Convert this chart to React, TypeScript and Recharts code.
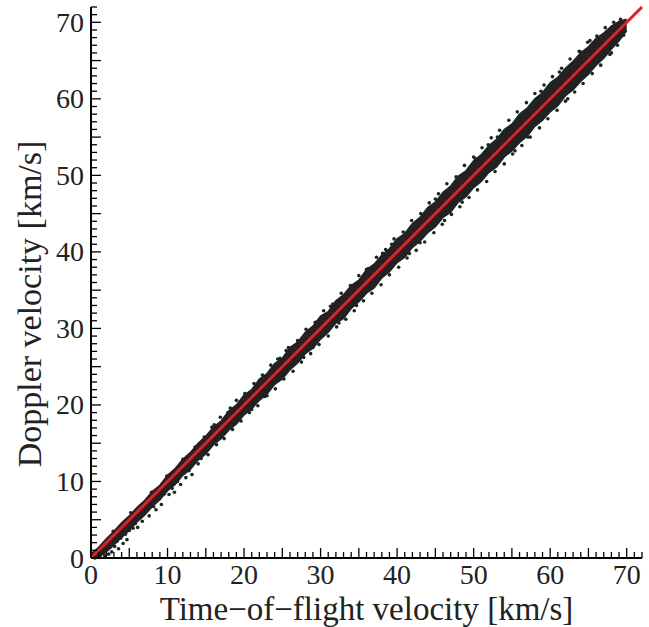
import { ComposedChart, XAxis, YAxis, Area, Scatter, Line, Label } from 'recharts'

// dense core of the point cloud: low / high Doppler velocity per ToF velocity
const bandX = [
  0, 1, 2, 3, 4, 5, 6, 7, 8, 9, 10, 11, 12, 13, 14, 15, 16, 17, 18, 19, 20, 21, 22, 23, 24, 25, 26, 27, 28, 29, 30,
  31, 32, 33, 34, 35, 36, 37, 38, 39, 40, 41, 42, 43, 44, 45, 46, 47, 48, 49, 50, 51, 52, 53, 54, 55, 56, 57, 58, 59,
  60, 61, 62, 63, 64, 65, 66, 67, 68, 69, 70,
]
const bandLow = [
  0.0, 0.1, 0.8, 1.7, 2.7, 3.6, 4.7, 5.6, 6.7, 7.6, 8.8, 9.6, 10.8, 11.6, 12.8, 13.6, 14.8, 15.6, 16.7, 17.5, 18.7,
  19.5, 20.6, 21.4, 22.7, 23.4, 24.6, 25.5, 26.7, 27.4, 28.6, 29.5, 30.7, 31.3, 32.6, 33.5, 34.6, 35.3, 36.6, 37.4,
  38.6, 39.3, 40.6, 41.4, 42.5, 43.3, 44.5, 45.2, 46.5, 47.2, 48.4, 49.2, 50.4, 51.1, 52.4, 53.2, 54.3, 55.1, 56.4,
  57.2, 58.3, 59.1, 60.4, 61.2, 62.3, 63.2, 64.4, 65.3, 66.5, 67.6, 68.9,
]
const bandHigh = [
  0.5, 1.4, 2.5, 3.5, 4.6, 5.5, 6.6, 7.5, 8.7, 9.5, 10.8, 11.7, 12.9, 13.8, 15.0, 15.9, 17.1, 17.9, 19.2, 20.0, 21.3,
  22.0, 23.4, 24.1, 25.4, 26.1, 27.5, 28.2, 29.5, 30.3, 31.6, 32.2, 33.6, 34.4, 35.6, 36.3, 37.7, 38.4, 39.6, 40.4,
  41.7, 42.4, 43.7, 44.5, 45.8, 46.5, 47.8, 48.6, 49.9, 50.6, 51.9, 52.7, 53.9, 54.7, 56.0, 56.7, 58.0, 58.8, 60.0,
  60.8, 62.1, 62.8, 64.0, 64.9, 66.0, 66.8, 67.9, 68.6, 69.5, 70.1, 70.4,
]

// scattered points around the band edges
const tofX = [
  0.5, 0.9, 1.2, 1.5, 1.8, 2.0, 2.3, 2.5, 2.7, 2.9, 3.1, 3.4, 3.6, 3.9, 4.2, 4.5, 4.7, 5.0, 5.2, 5.5,
  5.8, 6.1, 6.4, 6.7, 7.0, 7.3, 7.6, 7.9, 8.2, 8.5, 8.9, 9.2, 9.6, 9.9, 10.2, 10.6, 10.9, 11.3, 11.7, 12.0,
  12.4, 12.8, 13.2, 13.6, 14.0, 14.4, 14.8, 15.3,
  15.8, 16.4, 16.9, 17.4, 17.9, 18.5, 19.0, 19.6, 20.1, 20.7, 21.3, 21.8, 22.4, 23.0, 23.5, 24.1, 24.7, 25.2, 25.8, 26.4,
  27.0, 27.5, 28.1, 28.7, 29.3, 29.8, 30.4, 31.0, 31.6, 32.1, 32.7, 33.3, 33.9, 34.4, 35.0, 35.6, 36.2, 36.7, 37.3, 37.9,
  38.5, 39.0, 39.6, 40.2, 40.8, 41.3, 41.9, 42.5, 43.1, 43.6, 44.2, 44.8,
  45.4, 45.9, 46.5, 47.1, 47.7, 48.2, 48.8, 49.4, 50.0, 50.5, 51.1, 51.7, 52.3, 52.8, 53.4, 54.0, 54.6, 55.1, 55.7, 56.3,
  56.9, 57.4, 58.0, 58.6, 59.2, 59.7, 60.3, 60.9, 61.5, 62.0, 62.6, 63.2, 63.8, 64.3, 64.9, 65.5, 66.1, 66.6, 67.2, 67.8,
  68.3, 68.8, 69.2, 69.6,
  18.2, 21.0, 24.4, 27.8, 31.3, 34.7, 38.1, 41.6, 45.0, 48.5, 51.9, 55.4, 58.8, 62.3, 65.2, 68.0, 16.1, 29.0, 36.0, 43.0,
  50.2, 57.1, 64.0, 61.2, 53.1, 46.2, 39.3, 32.4, 25.5, 22.7,
]
const dopY = [
  0.0, 0.2, 0.1, 0.7, 0.3, 1.1, 0.5, 1.4, 0.8, 3.5, 1.5, 2.2, 1.2, 2.6, 1.9, 3.1, 2.4, 3.6, 5.9, 3.9,
  4.5, 4.0, 5.3, 4.8, 5.9, 6.4, 5.5, 8.6, 6.7, 6.3, 7.7, 7.0, 8.4, 10.7, 8.3, 9.1, 8.6, 10.0, 9.6, 12.9,
  10.5, 11.4, 10.9, 14.5, 12.3, 13.0, 15.8, 13.5,
  17.1, 14.8, 18.4, 15.6, 19.0, 16.8, 20.6, 17.9, 21.5, 19.0, 22.8, 19.9, 23.9, 21.2, 25.2, 22.1, 26.1, 23.4, 27.5, 24.4,
  28.4, 25.6, 29.9, 26.7, 30.8, 27.9, 32.3, 29.0, 33.2, 30.2, 34.6, 31.2, 35.6, 32.3, 36.9, 33.6, 37.8, 34.6, 39.3, 35.7,
  40.3, 37.0, 41.7, 38.0, 42.6, 39.2, 44.1, 40.2, 45.0, 41.3, 46.4, 42.5,
  47.6, 43.6, 48.9, 44.9, 49.8, 45.9, 51.3, 47.1, 52.4, 48.1, 53.6, 49.2, 54.9, 50.5, 55.9, 51.5, 57.2, 52.8, 58.3, 53.9,
  59.5, 55.0, 60.7, 56.2, 61.8, 57.4, 62.9, 58.5, 64.0, 59.7, 65.2, 60.9, 66.2, 62.0, 67.4, 63.3, 68.2, 64.4, 69.3, 65.8,
  70.0, 67.0, 70.4, 68.3,
  19.6, 19.4, 26.0, 26.2, 32.9, 33.0, 39.8, 39.8, 46.9, 46.5, 54.0, 53.2, 61.0, 60.0, 67.6, 66.0, 17.4, 27.5, 37.7, 41.2,
  52.2, 55.0, 66.1, 63.5, 55.0, 44.1, 41.0, 30.7, 27.1, 21.1,
]

// linear fit drawn in red
const fitX = [0, 72]
const fitY = [0, 72]

const allTicks = [
  0, 1, 2, 3, 4, 5, 6, 7, 8, 9, 10, 11, 12, 13, 14, 15, 16, 17, 18, 19, 20, 21, 22, 23, 24, 25, 26, 27, 28, 29, 30,
  31, 32, 33, 34, 35, 36, 37, 38, 39, 40, 41, 42, 43, 44, 45, 46, 47, 48, 49, 50, 51, 52, 53, 54, 55, 56, 57, 58, 59,
  60, 61, 62, 63, 64, 65, 66, 67, 68, 69, 70, 71, 72,
]
const labelTicks = [0, 10, 20, 30, 40, 50, 60, 70]

const bandData = bandX.map((x, i) => ({ x, band: [bandLow[i], bandHigh[i]] }))
const pointData = tofX.map((x, i) => ({ x, y: dopY[i] }))
const fitData = fitX.map((x, i) => ({ x, y: fitY[i] }))

const FONT = '"Liberation Serif", "Times New Roman", serif'
const INK = '#222'
const tickLen = (v: number) => (v % 5 === 0 ? 10 : 6)

const BottomTick = (p: any) => {
  const v = p.payload.value
  return (
    <g>
      <line x1={p.x} y1={p.y} x2={p.x} y2={p.y - tickLen(v)} stroke="#000" strokeWidth={1.3} />
      {labelTicks.includes(v) && (
        <text x={p.x} y={p.y + 26} textAnchor="middle" fontSize={28} fontFamily={FONT} fill={INK}>{v}</text>
      )}
    </g>
  )
}
const TopTick = (p: any) => (
  <line x1={p.x} y1={p.y} x2={p.x} y2={p.y + tickLen(p.payload.value)} stroke="#000" strokeWidth={1.3} />
)
const LeftTick = (p: any) => {
  const v = p.payload.value
  return (
    <g>
      <line x1={p.x} y1={p.y} x2={p.x + tickLen(v)} y2={p.y} stroke="#000" strokeWidth={1.3} />
      {labelTicks.includes(v) && (
        <text x={p.x - 7} y={p.y + 9.5} textAnchor="end" fontSize={28} fontFamily={FONT} fill={INK}>{v}</text>
      )}
    </g>
  )
}
const RightTick = (p: any) => (
  <line x1={p.x} y1={p.y} x2={p.x - tickLen(p.payload.value)} y2={p.y} stroke="#000" strokeWidth={1.3} />
)

const Dot = (p: any) => <circle cx={p.cx} cy={p.cy} r={1.8} fill={INK} />

export default function App() {
  return (
    <div style={{ position: 'absolute', left: 0, top: 0, background: '#fff' }}>
      <ComposedChart width={649} height={627} data={bandData} margin={{ top: 7, right: 7, bottom: 0, left: 0 }}>
        <XAxis xAxisId="b" dataKey="x" type="number" domain={[0, 72]} ticks={allTicks} interval={0}
          tick={BottomTick} tickLine={false} tickSize={0} tickMargin={0} height={69}
          axisLine={{ stroke: '#000', strokeWidth: 2 }}>
          <Label value="Time−of−flight velocity [km/s]" position="insideBottom" offset={7}
            style={{ fontSize: 33, fontFamily: FONT, fill: INK }} />
        </XAxis>
        <XAxis xAxisId="t" orientation="top" dataKey="x" type="number" domain={[0, 72]} ticks={allTicks} interval={0}
          tick={TopTick} tickLine={false} tickSize={0} tickMargin={0} height={0}
          axisLine={{ stroke: '#000', strokeWidth: 2 }} />
        <YAxis yAxisId="l" type="number" domain={[0, 72]} ticks={allTicks} interval={0}
          tick={LeftTick} tickLine={false} tickSize={0} tickMargin={0} width={91}
          axisLine={{ stroke: '#000', strokeWidth: 2 }}>
          <Label content={() => (
            <text transform="translate(41,304) rotate(-90)" textAnchor="middle" fontSize={34}
              fontFamily={FONT} fill={INK}>Doppler velocity [km/s]</text>
          )} />
        </YAxis>
        <YAxis yAxisId="r" orientation="right" type="number" domain={[0, 72]} ticks={allTicks} interval={0}
          tick={RightTick} tickLine={false} tickSize={0} tickMargin={0} width={0}
          axisLine={{ stroke: '#000', strokeWidth: 2 }} />
        <Area xAxisId="b" yAxisId="l" dataKey="band" type="linear" stroke={INK} strokeWidth={1.5}
          fill={INK} fillOpacity={1} isAnimationActive={false} />
        <Scatter xAxisId="b" yAxisId="l" data={pointData} dataKey="y" shape={Dot} isAnimationActive={false} />
        <Line xAxisId="b" yAxisId="l" data={fitData} dataKey="y" type="linear" stroke="#e3211c" strokeWidth={3}
          dot={false} activeDot={false} isAnimationActive={false} />
      </ComposedChart>
    </div>
  )
}
